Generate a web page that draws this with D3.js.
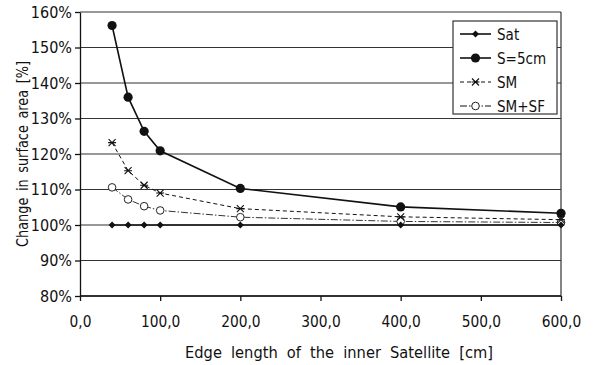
<!DOCTYPE html>
<html>
<head>
<meta charset="utf-8">
<script src="https://cdn.jsdelivr.net/npm/d3@7"></script>
<style>
  body { margin: 0; background: #fff; }
  svg text { font-family: "DejaVu Sans", sans-serif; fill: #111; }
</style>
</head>
<body>
<div id="chart"></div>
<script>
// edge lengths of the inner satellite [cm]
var edges = [40, 60, 80, 100, 200, 400, 600]
// change in surface area [%]
var sat = [100, 100, 100, 100, 100, 100, 100]
var s5cm = [156.2, 136, 126.4, 120.9, 110.3, 105.1, 103.3]
var sm = [123.2, 115.3, 111.2, 109, 104.6, 102.3, 101.5]
var smsf = [110.6, 107.2, 105.3, 104.1, 102.2, 101.0, 100.7]
var xTicks = [0, 100, 200, 300, 400, 500, 600]
var yTicks = [80, 90, 100, 110, 120, 130, 140, 150, 160]

var series = [
    {name: 'Sat', values: sat, dash: null, width: 1.6, marker: 'diamond'},
    {name: 'S=5cm', values: s5cm, dash: null, width: 1.6, marker: 'dot'},
    {name: 'SM', values: sm, dash: '4,3', width: 1, marker: 'star'},
    {name: 'SM+SF', values: smsf, dash: '7,2,1.5,2', width: 1, marker: 'ring'}
]

var svgW = 597, svgH = 365
var margins = {left: 80, right: 36, top: 12, bottom: 69}
var chartW = svgW - margins.left - margins.right
var chartH = svgH - margins.top - margins.bottom

var svg = d3.select('#chart').append('svg')
    .attr('width', svgW)
    .attr('height', svgH)
var chart = svg.append('g')
    .attr('transform', `translate(${margins.left},${margins.top})`)

// squeeze text horizontally, gives a condensed look
function narrow(sel, k) {
    sel.each(function () {
        var w = this.getComputedTextLength()
        d3.select(this).attr('textLength', w * k).attr('lengthAdjust', 'spacingAndGlyphs')
    })
}

var xscale = d3.scaleLinear().domain([0, 600]).range([0, chartW])
var yscale = d3.scaleLinear().domain([80, 160]).range([chartH, 0])

// grid lines
chart.selectAll('.grid').data(yTicks).enter().append('line')
    .attr('x1', 0).attr('x2', chartW)
    .attr('y1', d => yscale(d)).attr('y2', d => yscale(d))
    .attr('stroke', '#333').attr('stroke-width', 1.2)
chart.append('line')
    .attr('x1', chartW).attr('x2', chartW).attr('y1', 0).attr('y2', chartH)
    .attr('stroke', '#333').attr('stroke-width', 1.2)

var xaxis = d3.axisBottom(xscale).tickValues(xTicks).tickSize(5).tickSizeOuter(0)
    .tickFormat(d => d.toFixed(1).replace('.', ','))
var yaxis = d3.axisLeft(yscale).tickValues(yTicks).tickSize(5).tickSizeOuter(0)
    .tickFormat(d => d + '%')

var gx = chart.append('g').attr('transform', `translate(0, ${chartH})`).call(xaxis)
var gy = chart.append('g').call(yaxis)
gx.selectAll('text').attr('dy', '1.45em').style('font-size', '16px')
gy.selectAll('text').attr('x', -8).style('font-size', '16px')
narrow(gx.selectAll('text'), 0.86)
narrow(gy.selectAll('text'), 0.9)
gx.selectAll('path, line').attr('stroke', '#111').attr('stroke-width', 1.3)
gy.selectAll('path, line').attr('stroke', '#111').attr('stroke-width', 1.3)
gx.select('.domain').remove()
chart.append('line').attr('x1', 0).attr('x2', chartW).attr('y1', chartH).attr('y2', chartH)
    .attr('stroke', '#111').attr('stroke-width', 1.4)

function drawMarker(g, type, x, y) {
    if (type == 'diamond') {
        g.append('path').attr('d', `M${x},${y-3.5}L${x+3.5},${y}L${x},${y+3.5}L${x-3.5},${y}Z`)
            .attr('fill', '#111')
    } else if (type == 'dot') {
        g.append('circle').attr('cx', x).attr('cy', y).attr('r', 4.6).attr('fill', '#111')
    } else if (type == 'star') {
        var r = 3.5
        g.append('path')
            .attr('d', `M${x-r},${y-r}L${x+r},${y+r}M${x-r},${y+r}L${x+r},${y-r}M${x-r-0.5},${y}L${x+r+0.5},${y}`)
            .attr('stroke', '#111').attr('stroke-width', 1.1).attr('fill', 'none')
    } else {
        g.append('circle').attr('cx', x).attr('cy', y).attr('r', 3.8)
            .attr('fill', '#fff').attr('stroke', '#222').attr('stroke-width', 1)
    }
}

var line = d3.line().x(d => xscale(d[0])).y(d => yscale(d[1]))

series.slice().reverse().forEach(function (s) {
    var pts = edges.map((e, i) => [e, s.values[i]])
    var g = chart.append('g')
    g.append('path').datum(pts).attr('d', line)
        .attr('fill', 'none').attr('stroke', s.name == 'SM+SF' ? '#333' : '#111')
        .attr('stroke-width', s.width)
        .attr('stroke-dasharray', s.dash)
    pts.forEach(p => drawMarker(g, s.marker, xscale(p[0]), yscale(p[1])))
})

// legend
var legend = svg.append('g').attr('transform', 'translate(453, 21)')
legend.append('rect').attr('width', 104).attr('height', 93)
    .attr('fill', '#fff').attr('stroke', '#333').attr('stroke-width', 1.2)
series.forEach(function (s, i) {
    var y = 13 + i * 24
    var g = legend.append('g')
    g.append('line').attr('x1', 7).attr('x2', 38).attr('y1', y).attr('y2', y)
        .attr('stroke', '#111').attr('stroke-width', s.width)
        .attr('stroke-dasharray', s.dash)
    drawMarker(g, s.marker, 22.5, y)
    var t = g.append('text').attr('x', 44).attr('y', y + 6).style('font-size', '16.5px').text(s.name)
    narrow(t, 0.82)
})

// axis titles
var yTitle = svg.append('text')
    .attr('transform', `translate(28, ${margins.top + chartH / 2}) rotate(-90)`)
    .attr('text-anchor', 'middle').style('font-size', '15.5px').style('word-spacing', '3px')
    .text('Change in surface area [%]')
yTitle.attr('textLength', 186).attr('lengthAdjust', 'spacingAndGlyphs')
var xTitle = svg.append('text')
    .attr('x', 339).attr('y', 358)
    .attr('text-anchor', 'middle').style('font-size', '16.5px').style('word-spacing', '5px')
    .text('Edge length of the inner Satellite [cm]')
xTitle.attr('textLength', 308).attr('lengthAdjust', 'spacingAndGlyphs')
</script>
</body>
</html>
